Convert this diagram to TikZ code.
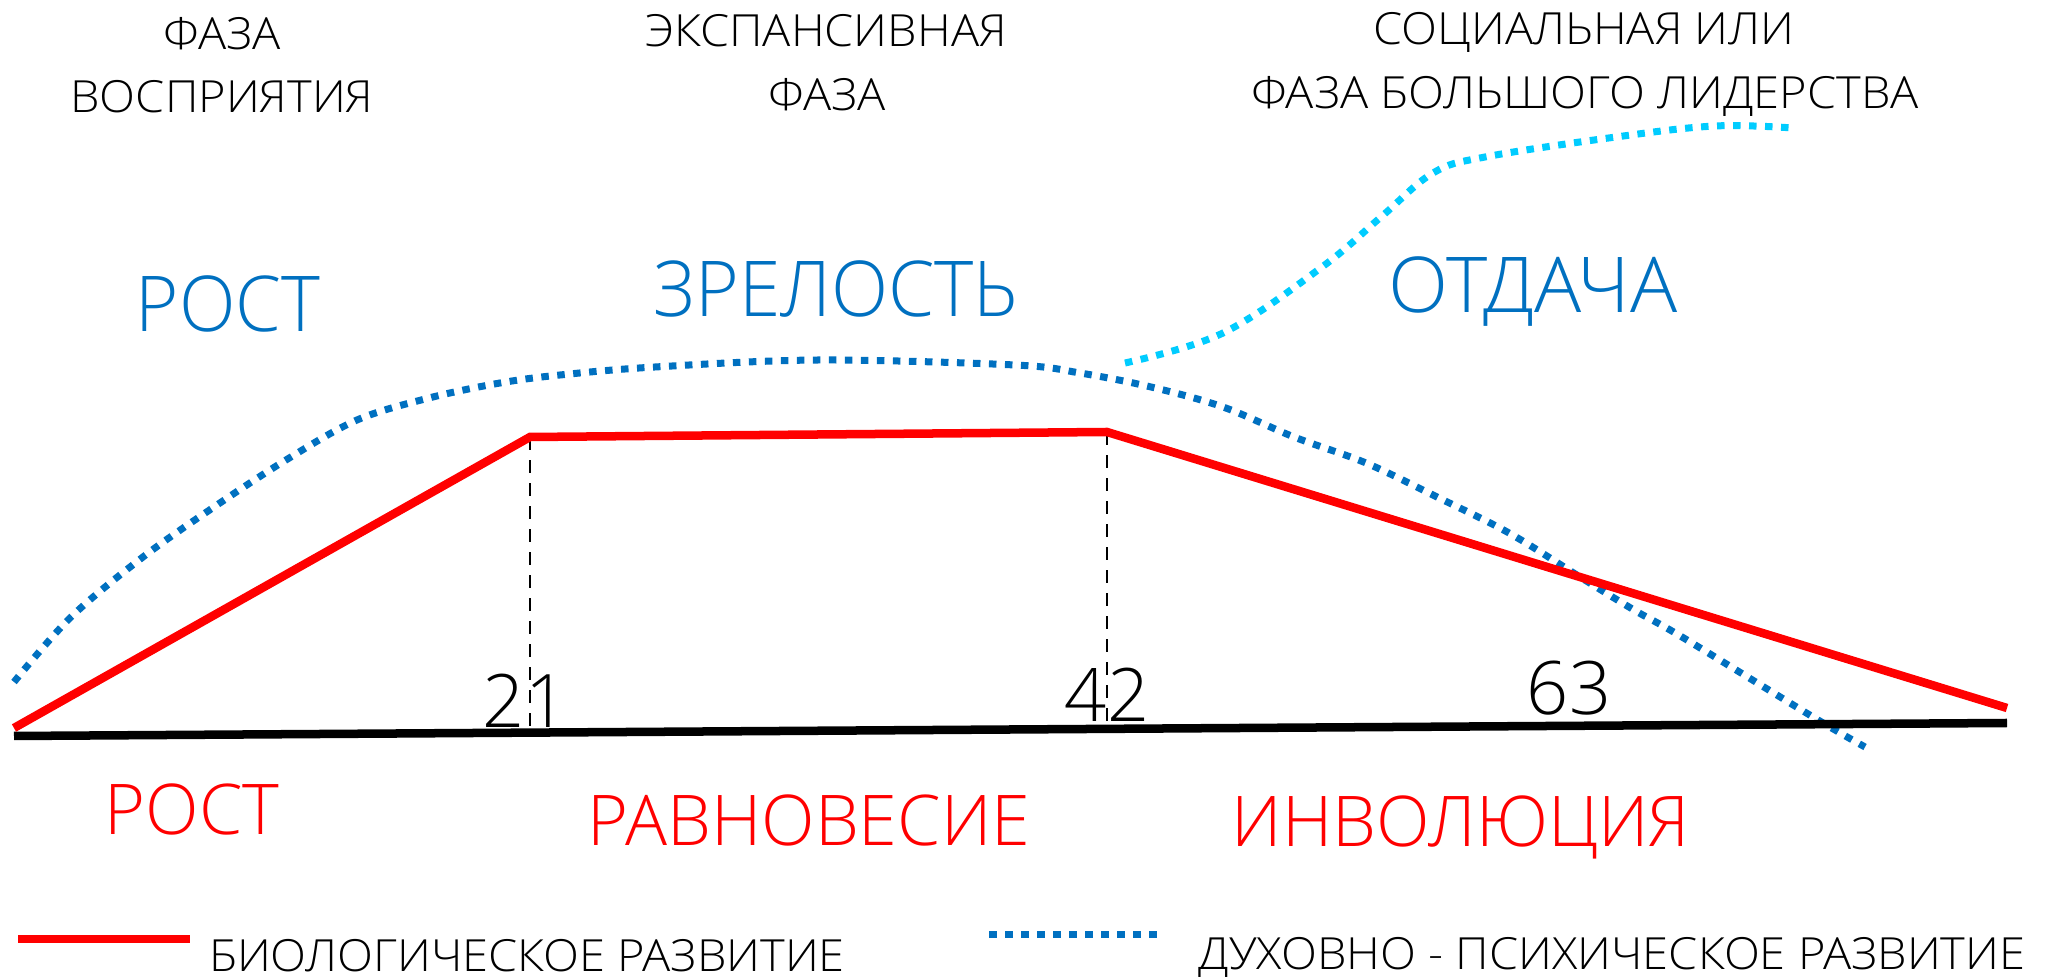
\documentclass[tikz,border=0pt]{standalone}
\usepackage{fontspec}
\IfFontExistsTF{Open Sans Light}{\setmainfont{Open Sans Light}}{\setmainfont{Open Sans}}
\definecolor{bblue}{HTML}{0070C0}
\definecolor{cyanb}{HTML}{00CCFF}
\definecolor{rred}{HTML}{FF0000}
\begin{document}
\begin{tikzpicture}[x=0.01cm,y=-0.01cm,
  txt/.style={inner sep=0pt,anchor=base},
  toptxt/.style={txt,xscale=1.06,font=\fontsize{12.6}{14}\selectfont},
  bluetxt/.style={txt,text=bblue,font=\fontsize{21.9}{24}\selectfont},
  redtxt/.style={txt,text=rred,font=\fontsize{19.9}{22}\selectfont},
  numtxt/.style={txt,font=\fontsize{21}{24}\selectfont},
  legtxt/.style={txt,xscale=1.06,font=\fontsize{12.6}{14}\selectfont},
  bio/.style={draw=rred,line width=0.085cm},
  spir/.style={draw=bblue,line width=0.07cm,dash pattern=on 0.075cm off 0.085cm},
  soc/.style={draw=cyanb,line width=0.07cm,dash pattern=on 0.075cm off 0.085cm},
  axisline/.style={draw=black,line width=0.085cm},
  guide/.style={draw=black,line width=0.025cm,dash pattern=on 0.13cm off 0.1cm}]
\useasboundingbox (0,0) rectangle (2054,980);
\fill[white] (0,0) rectangle (2054,980);

% top phase labels
\node[toptxt] (f1a) at (222,50) {ФАЗА};
\node[toptxt] (f1b) at (222,113) {ВОСПРИЯТИЯ};
\node[toptxt] (f2a) at (826,47) {ЭКСПАНСИВНАЯ};
\node[toptxt] (f2b) at (827,111) {ФАЗА};
\node[toptxt] (f3a) at (1584,45) {СОЦИАЛЬНАЯ ИЛИ};
\node[toptxt] (f3b) at (1585,109) {ФАЗА БОЛЬШОГО ЛИДЕРСТВА};

% blue labels
\node[bluetxt,xscale=0.96] (b1) at (228,332) {РОСТ};
\node[bluetxt,xscale=0.97] (b2) at (836,317) {ЗРЕЛОСТЬ};
\node[bluetxt,xscale=1.02] (b3) at (1533,313) {ОТДАЧА};

% curves
\path[spir] plot[smooth,tension=0.55] coordinates {(14,682) (71,617) (143,557) (214,507) (286,460) (357,420) (429,398) (500,383) (560,375) (655,367) (819,360) (1015,365) (1080,373) (1151,387) (1223,407) (1294,437) (1366,463) (1437,497) (1509,533) (1580,577) (1634,610) (1682,637) (1813,717) (1865,747)};
\path[soc] plot[smooth,tension=0.6] coordinates {(1125,363) (1223,333) (1322,267) (1381,217) (1433,173) (1485,157) (1616,137) (1715,126) (1793,128)};

% axis and biological line
\coordinate (a0) at (14,736);
\coordinate (a1) at (2007,723);
\coordinate (r0) at (14,728);
\coordinate (r1) at (530,437);
\coordinate (r2) at (1107,432);
\coordinate (r3) at (2007,708);
\coordinate (g1) at (530,730);
\coordinate (g2) at (1107,725);
\draw[guide] (r1) -- (g1);
\draw[guide] (r2) -- (g2);
\draw[axisline] (a0) -- (a1);
\draw[bio,line join=miter] (r0) -- (r1) -- (r2) -- (r3);

% numbers
\node[numtxt] (n21) at (525,728) {21};
\node[numtxt] (n42) at (1107,722) {42};
\node[numtxt] (n63) at (1569,715) {63};

% red labels
\node[redtxt] (rr1) at (192,835) {РОСТ};
\node[redtxt] (rr2) at (809,846) {РАВНОВЕСИЕ};
\node[redtxt] (rr3) at (1461,847) {ИНВОЛЮЦИЯ};

% legend
\coordinate (l1a) at (18,939);
\coordinate (l1b) at (190,939);
\draw[bio] (l1a) -- (l1b);
\node[legtxt] (lt1) at (527,972) {БИОЛОГИЧЕСКОЕ РАЗВИТИЕ};
\coordinate (l2a) at (989,935);
\coordinate (l2b) at (1161,935);
\draw[spir] (l2a) -- (l2b);
\node[legtxt] (lt2) at (1612,970) {ДУХОВНО - ПСИХИЧЕСКОЕ РАЗВИТИЕ};
\end{tikzpicture}
\end{document}
